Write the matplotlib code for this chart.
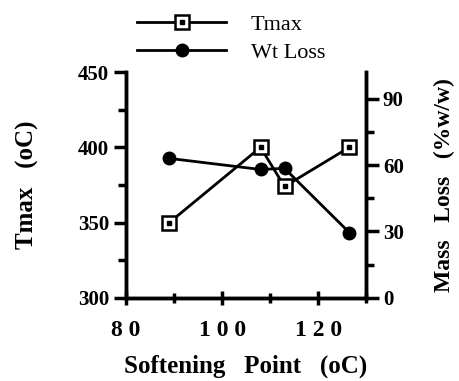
import matplotlib
matplotlib.use('Agg')
import matplotlib.pyplot as plt
from matplotlib.legend_handler import HandlerTuple

# data
soft_tmax = [89, 108, 113, 126.5]
tmax = [350, 400, 374, 400]
soft_loss = [89, 108, 113, 126.5]
wt_loss = [63, 58, 58.5, 29.5]

xticks = [80, 100, 120]
xticklabels = ['8 0', '1 0 0', '1 2 0']
yticks_left = [300, 350, 400, 450]
yticks_right = [0, 30, 60, 90]

plt.rcParams['font.family'] = ['Liberation Serif', 'DejaVu Serif']
bold = {'fontweight': 'bold'}

fig = plt.figure(figsize=(4.6, 3.81), dpi=100)
ax = fig.add_axes([0.274, 0.218, 0.522, 0.593])
ax2 = ax.twinx()

# Tmax: open square with a dot in the middle
l1, = ax.plot(soft_tmax, tmax, color='black', lw=2, marker='s', ms=10,
              mfc='white', mec='black', mew=1.8, zorder=3)
d1, = ax.plot(soft_tmax, tmax, ls='none', marker='s', ms=2.5,
              mfc='black', mec='black', zorder=4)
l2, = ax2.plot(soft_loss, wt_loss, color='black', lw=2, marker='o', ms=9,
               mfc='black', mec='black')

ax.set_xlim(80, 130)
ax.set_ylim(300, 450)
ax2.set_ylim(0, 102)

ax.set_xticks(xticks)
ax.set_xticklabels(xticklabels, fontsize=17, **bold)
ax.set_xticks([90, 110, 130], minor=True)
ax.set_yticks(yticks_left)
ax.set_yticklabels([str(v) for v in yticks_left], fontsize=15, **bold)
ax.set_yticks([325, 375, 425], minor=True)
ax2.set_yticks(yticks_right)
ax2.set_yticklabels([str(v) for v in yticks_right], fontsize=15, **bold)
ax2.set_yticks([15, 45, 75], minor=True)

for a in (ax, ax2):
    a.spines['top'].set_visible(False)
    for s in ('left', 'right', 'bottom'):
        a.spines[s].set_linewidth(2.5)
    a.tick_params(which='major', length=9, width=2.5, direction='out', pad=3)
    a.tick_params(which='minor', length=6, width=2.5, direction='out')
ax.tick_params(axis='x', which='both', direction='inout', length=10, pad=11)
ax.tick_params(axis='x', which='minor', length=7)

ax.set_xlabel('Softening   Point   (oC)', fontsize=18, labelpad=10, **bold)
ax.set_ylabel('Tmax   (oC)', fontsize=18, labelpad=28, **bold)
ax2.set_ylabel('Mass   Loss   (%w/w)', fontsize=17, labelpad=22, **bold)

fig.legend([(l1, d1), l2], ['Tmax', 'Wt Loss'],
           handler_map={tuple: HandlerTuple(ndivide=1)},
           loc='upper left', bbox_to_anchor=(0.255, 1.015), frameon=False,
           fontsize=16, handlelength=4.0, handletextpad=1.1,
           labelspacing=0.35)

fig.savefig('out.png', dpi=100)
